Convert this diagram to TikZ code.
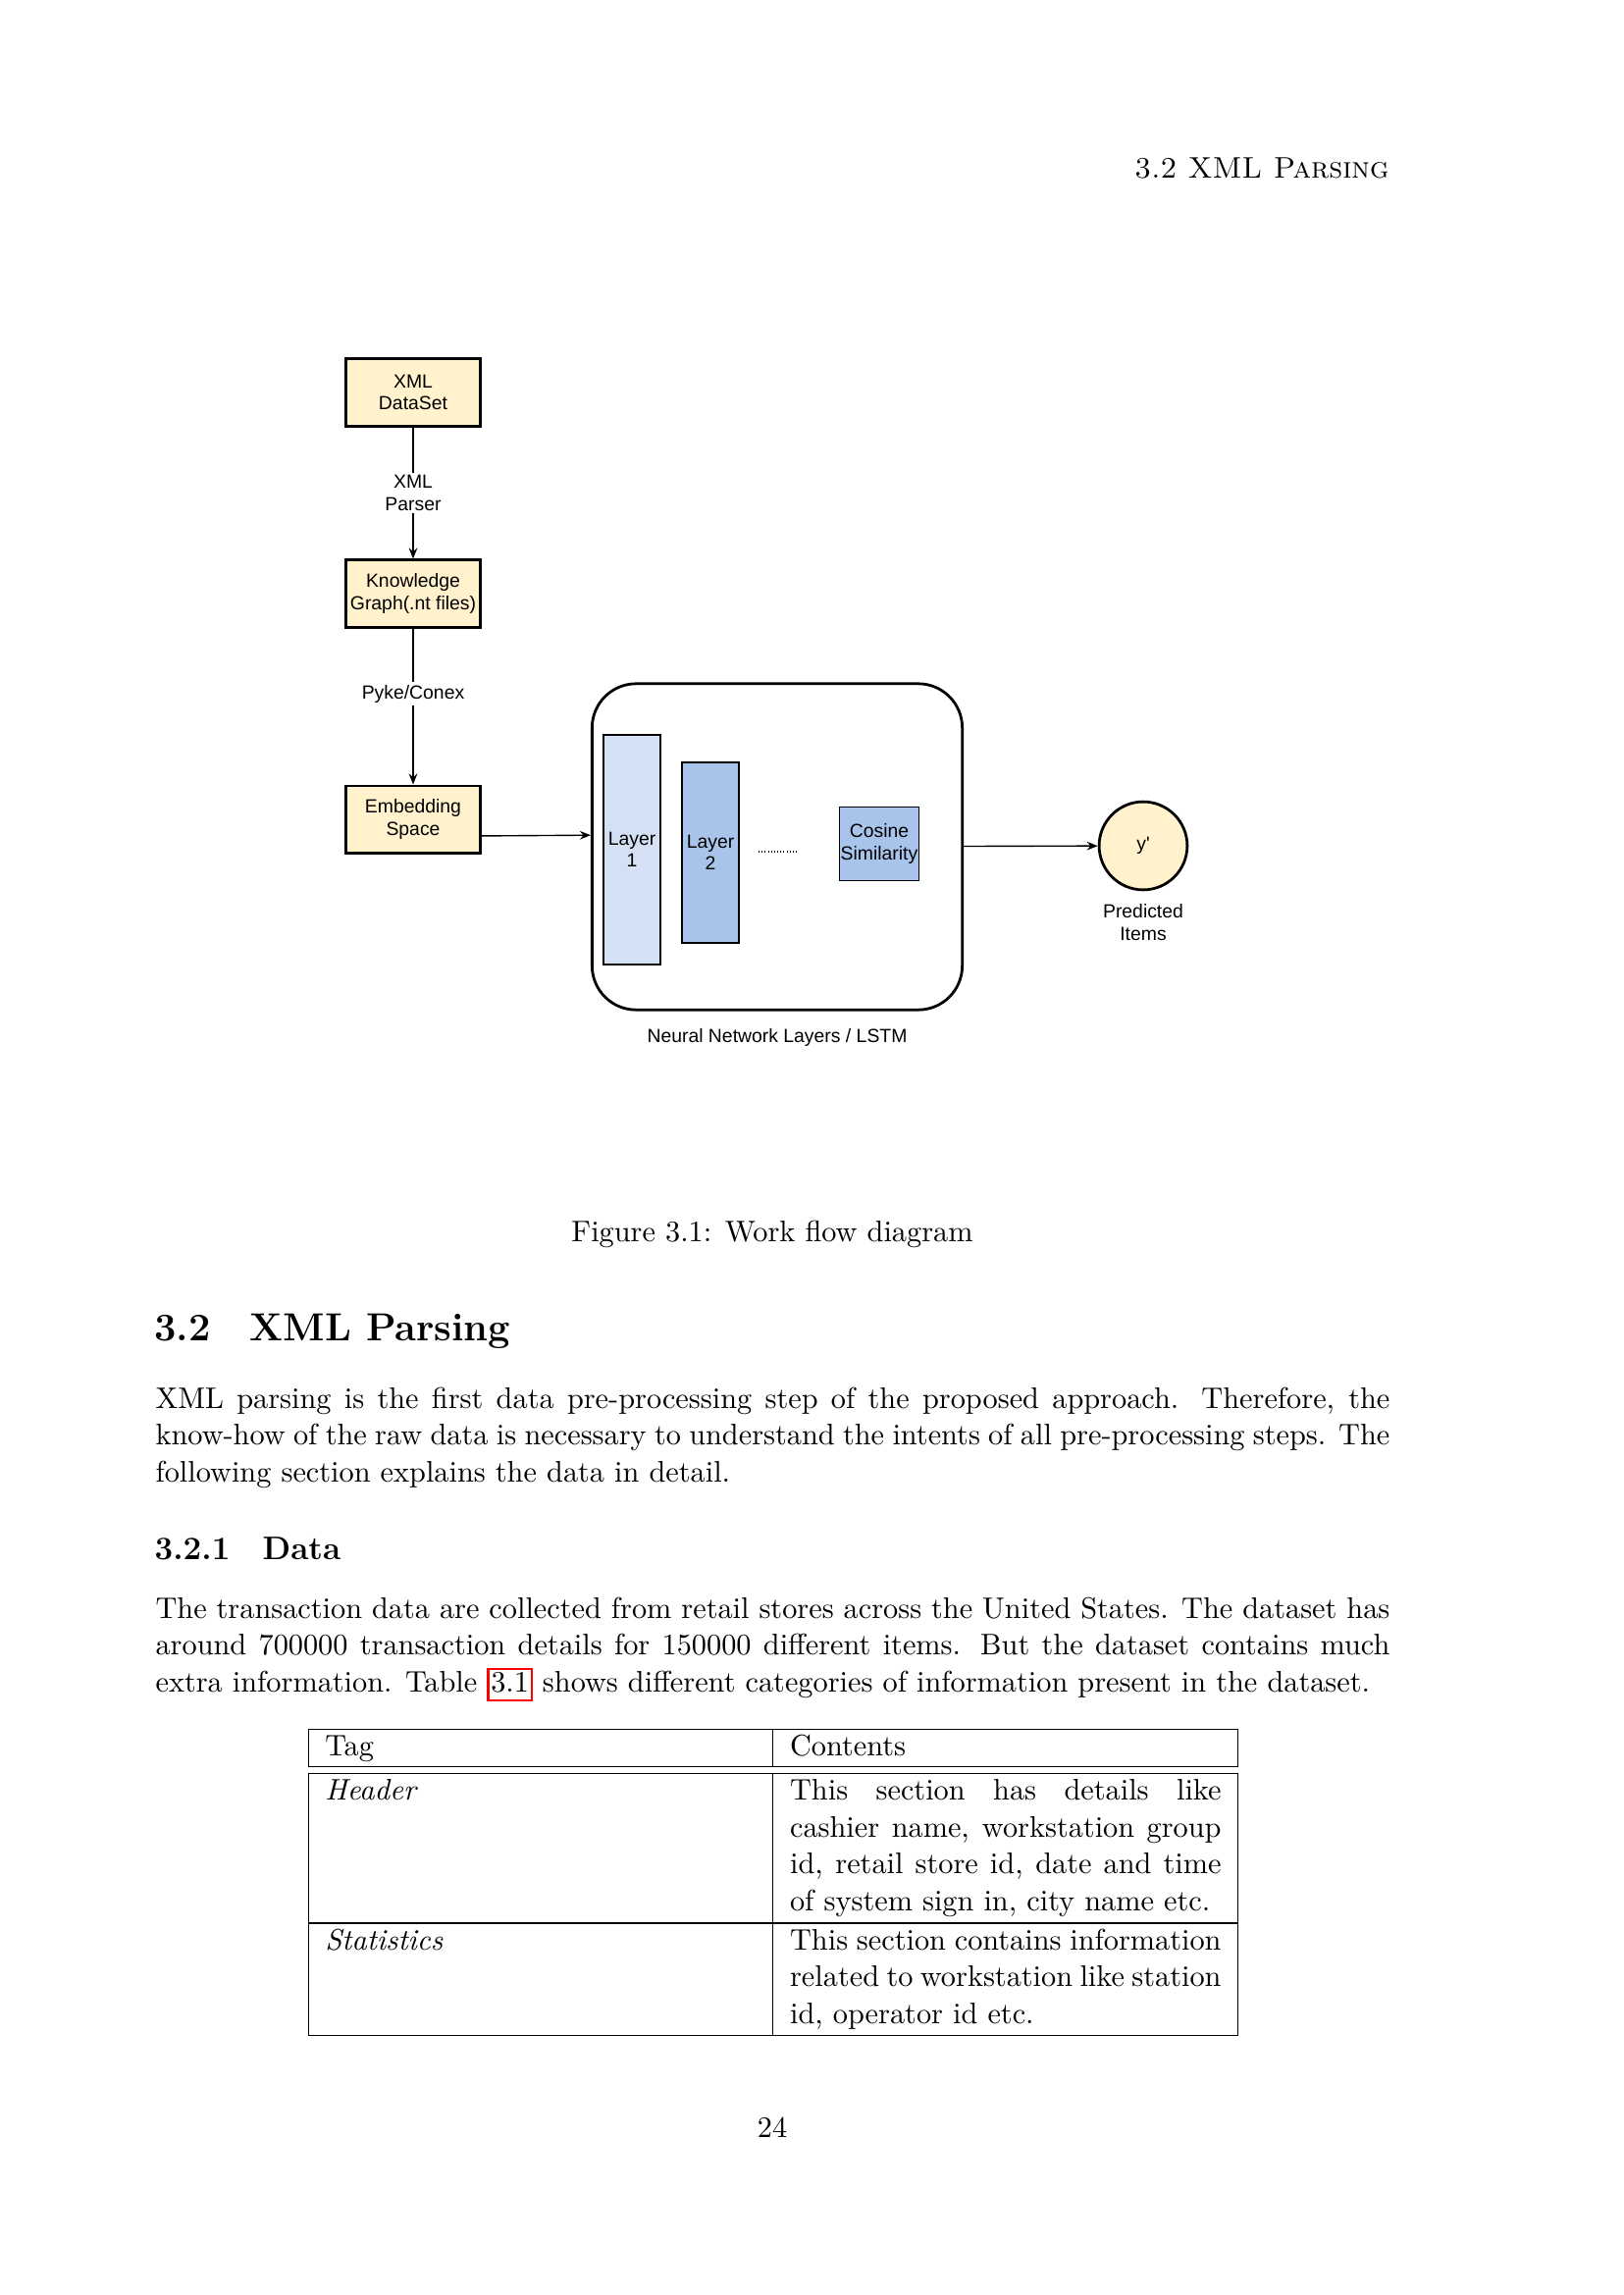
\documentclass[tikz,border=0pt]{standalone}
\usepackage{fontspec}
\usepackage{array}
\usetikzlibrary{arrows.meta,positioning,shapes.geometric}
\newfontfamily\drawfont{Liberation Sans}
\newcommand\diafont{\drawfont\fontsize{7}{8.1}\selectfont}
\newcommand\bodysize{\fontsize{10.95}{13.6}\selectfont}
\newcommand\reflink[1]{{\fboxsep=0.6pt\fboxrule=0.8pt\color{red}\fbox{\color{black}\rule[-2pt]{0pt}{9.5pt}#1}}}
\definecolor{noteyellow}{HTML}{FFF2CC}
\definecolor{lightblue}{HTML}{D4E1F5}
\definecolor{midblue}{HTML}{A9C4EB}

\begin{document}
\begin{tikzpicture}[x=0.12697mm, y=-0.12697mm,
        box/.style={draw, line width=0.9pt, fill=noteyellow, minimum width=17.4mm, minimum height=8.7mm, align=center, font=\diafont, inner sep=0pt},
        layer/.style={draw, line width=0.9pt, minimum width=7.4mm, align=center, font=\diafont, inner sep=0pt},
        tag/.style={align=center, font=\diafont, inner sep=1pt},
        plain/.style={inner sep=0pt, font=\bodysize},
        body/.style={anchor=base west, inner sep=0pt, text width=159.7mm, align=justify, font=\bodysize},
        arr/.style={-{Stealth[length=1.4mm, width=1.1mm]}, line width=0.5pt}
    ]
        \useasboundingbox (0,0) rectangle (1654,2339);

        % running head
        \node[plain, anchor=base east] (head) at (1416,182) {\textsc{3.2 XML Parsing}};

        % work flow
        \node[box] (xml) at (421,400) {XML\\DataSet};
        \node[box] (kg) at (421,605) {Knowledge\\Graph(.nt files)};
        \node[box] (emb) at (421,835) {Embedding\\Space};

        \node[draw, line width=1pt, rounded corners=5.7mm, minimum width=47.9mm, minimum height=42.2mm] (nn) at (792,863) {};
        \node[layer, fill=lightblue, minimum height=29.7mm] (lay1) at (644,866) {Layer\\1};
        \node[layer, fill=midblue, minimum height=23.4mm] (lay2) at (724,869) {Layer\\2};
        \node[draw, line width=0.4pt, fill=midblue, minimum width=10.3mm, minimum height=9.5mm, align=center, font=\diafont, inner sep=0pt] (cos) at (896,860) {Cosine\\Similarity};
        \coordinate (dotsl) at (773,868);
        \coordinate (dotsr) at (813,868);
        \draw[line width=0.4pt, dash pattern=on 0.3pt off 0.85pt] (dotsl) -- (dotsr);

        \node[circle, draw, line width=1pt, fill=noteyellow, minimum size=11.4mm, font=\diafont, inner sep=0pt] (ypred) at (1165,862) {y'};
        \node[tag, below=1.3mm of ypred] (predlbl) {Predicted\\Items};
        \node[tag, below=1.8mm of nn] (nnlbl) {Neural Network Layers / LSTM};

        \draw[arr] (xml) -- node[tag, fill=white] {XML\\Parser} (kg);
        \draw[arr] (kg) -- node[tag, fill=white, pos=0.42] {Pyke/Conex} (emb);
        \draw[arr] ([yshift=-2.15mm]emb.east) -- ([yshift=1.5mm]nn.west);
        \draw[arr] (nn) -- (ypred);

        % caption and text
        \node[plain, anchor=base] (cap) at (787,1265) {Figure 3.1: Work flow diagram};
        \node[inner sep=0pt, anchor=base west, font=\fontsize{14.4}{18}\selectfont\bfseries] (sec) at (157,1366) {3.2\quad XML Parsing};
        \node[body] (par1) at (158,1435) {XML parsing is the first data pre-processing step of the proposed approach. Therefore, the\linebreak know-how of the raw data is necessary to understand the intents of all pre-processing steps. The\linebreak following section explains the data in detail.};
        \node[inner sep=0pt, anchor=base west, font=\fontsize{12}{14.5}\selectfont\bfseries] (subsec) at (157,1589) {3.2.1\quad Data};
        \node[body] (par2) at (158,1649) {The transaction data are collected from retail stores across the United States. The dataset has\linebreak around 700000 transaction details for 150000 different items. But the dataset contains much\linebreak extra information. Table \reflink{3.1} shows different categories of information present in the dataset.};

        \node[plain, anchor=north west] (tab) at (313,1761) {%
            \begin{tabular}{|p{55.8mm}|p{55.8mm}|}
                \hline
                Tag & Contents \\
                \hline\hline
                \textit{Header} & This section has details like\linebreak cashier name, workstation group\linebreak id, retail store id, date and time\linebreak of system sign in, city name etc. \\
                \noalign{\hrule height 0.8pt}
                \textit{Statistics} & This section contains information\linebreak related to workstation like station\linebreak id, operator id etc. \\
                \hline
            \end{tabular}};

        \node[plain, anchor=base] (pagenum) at (787,2178) {24};
    \end{tikzpicture}
\end{document}
